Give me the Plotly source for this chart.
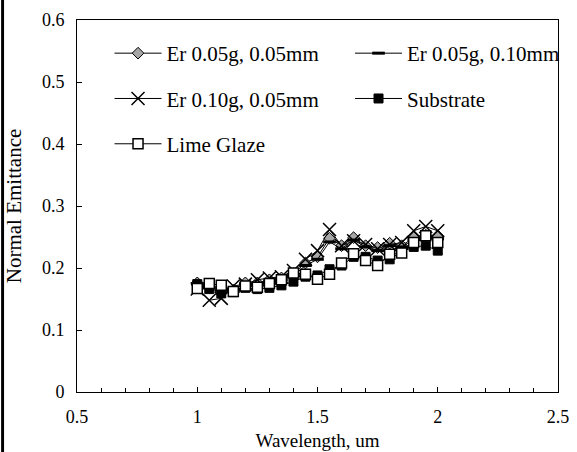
import plotly.graph_objects as go

wavelength = [1.00, 1.05, 1.10, 1.15, 1.20, 1.25, 1.30, 1.35, 1.40, 1.45, 1.50,
              1.55, 1.60, 1.65, 1.70, 1.75, 1.80, 1.85, 1.90, 1.95, 2.00]

er005_005 = [0.176, 0.171, 0.168, 0.164, 0.176, 0.176, 0.181, 0.184, 0.191, 0.208, 0.218,
             0.248, 0.236, 0.249, 0.236, 0.233, 0.240, 0.236, 0.249, 0.253, 0.252]
er005_010 = [0.174, 0.168, 0.164, 0.166, 0.174, 0.174, 0.178, 0.181, 0.188, 0.204, 0.214,
             0.242, 0.231, 0.245, 0.234, 0.228, 0.236, 0.234, 0.246, 0.250, 0.247]
er010_005 = [0.166, 0.148, 0.151, 0.171, 0.174, 0.181, 0.184, 0.186, 0.196, 0.214, 0.228,
             0.262, 0.236, 0.244, 0.238, 0.231, 0.238, 0.241, 0.260, 0.267, 0.260]
substrate = [0.174, 0.166, 0.159, 0.161, 0.168, 0.166, 0.168, 0.172, 0.178, 0.186, 0.188,
             0.198, 0.204, 0.218, 0.218, 0.212, 0.214, 0.226, 0.234, 0.236, 0.228]
lime_glaze = [0.167, 0.175, 0.172, 0.162, 0.171, 0.169, 0.175, 0.181, 0.192, 0.190, 0.182,
              0.190, 0.208, 0.223, 0.212, 0.204, 0.222, 0.224, 0.241, 0.252, 0.241]

x_ticks = [0.5, 1, 1.5, 2, 2.5]
x_tick_labels = ["0.5", "1", "1.5", "2", "2.5"]
y_ticks = [0, 0.1, 0.2, 0.3, 0.4, 0.5, 0.6]
y_tick_labels = ["0", "0.1", "0.2", "0.3", "0.4", "0.5", "0.6"]

FONT = "Times New Roman, Liberation Serif, DejaVu Serif, serif"
line = dict(color="black", width=1)

fig = go.Figure()
fig.add_trace(go.Scatter(x=wavelength, y=er005_005, name="Er 0.05g, 0.05mm", mode="lines+markers",
                         line=line, legend="legend", legendgroup="a",
                         marker=dict(symbol="diamond", size=9, color="#a6a6a6",
                                     line=dict(color="black", width=1))))
fig.add_trace(go.Scatter(x=wavelength, y=er005_010, name="Er 0.05g, 0.10mm", mode="lines+markers",
                         line=line, legend="legend2", legendgroup="b",
                         marker=dict(symbol="line-ew", size=9, color="black",
                                     line=dict(color="black", width=3))))
fig.add_trace(go.Scatter(x=wavelength, y=er010_005, name="Er 0.10g, 0.05mm", mode="lines+markers",
                         line=line, legend="legend", legendgroup="c",
                         marker=dict(symbol="x-thin", size=13, color="black",
                                     line=dict(color="black", width=1.5))))
fig.add_trace(go.Scatter(x=wavelength, y=substrate, name="Substrate", mode="lines+markers",
                         line=line, legend="legend2", legendgroup="d",
                         marker=dict(symbol="square", size=9, color="black",
                                     line=dict(color="black", width=1))))
fig.add_trace(go.Scatter(x=wavelength, y=lime_glaze, name="Lime Glaze", mode="lines+markers",
                         line=line, legend="legend", legendgroup="e",
                         marker=dict(symbol="square", size=10, color="white",
                                     line=dict(color="black", width=1.5))))

legend_common = dict(font=dict(family=FONT, size=21, color="black"), bgcolor="rgba(0,0,0,0)",
                     tracegroupgap=15, xanchor="left", yanchor="top", itemwidth=47)

fig.update_layout(
    width=577, height=452,
    margin=dict(l=77, r=12, t=20, b=60),
    paper_bgcolor="white", plot_bgcolor="white",
    font=dict(family=FONT, size=17, color="black"),
    legend=dict(x=(110 - 77) / 488, y=0.965, **legend_common),
    legend2=dict(x=(354 - 77) / 488, y=0.965, **legend_common),
    xaxis=dict(range=[0.5, 2.5], tickvals=x_ticks, ticktext=x_tick_labels, automargin=False,
               showgrid=False, zeroline=False, showline=True, linecolor="black", linewidth=1,
               mirror=True, ticks="inside", ticklen=5, tickcolor="black",
               minor=dict(dtick=0.1, ticks="inside", ticklen=4, tickcolor="black"),
               tickfont=dict(size=18), ticklabelstandoff=8,
               title=dict(text="Wavelength, um", font=dict(size=19), standoff=8)),
    yaxis=dict(range=[0, 0.6], tickvals=y_ticks, ticktext=y_tick_labels, automargin=False,
               showgrid=False, zeroline=False, showline=True, linecolor="black", linewidth=1,
               mirror=True, ticks="inside", ticklen=5, tickcolor="black",
               tickfont=dict(size=18), ticklabelstandoff=8,
               title=dict(text="Normal Emittance", font=dict(size=21), standoff=14)),
    shapes=[dict(type="rect", xref="paper", yref="paper", x0=-77/488, x1=-74/488, y0=-60/372,
                 y1=1 + 20/372, fillcolor="black", line=dict(width=0))],
)

fig.write_html("out.html", config={"displayModeBar": False},
               post_script="document.body.style.margin='0';")
